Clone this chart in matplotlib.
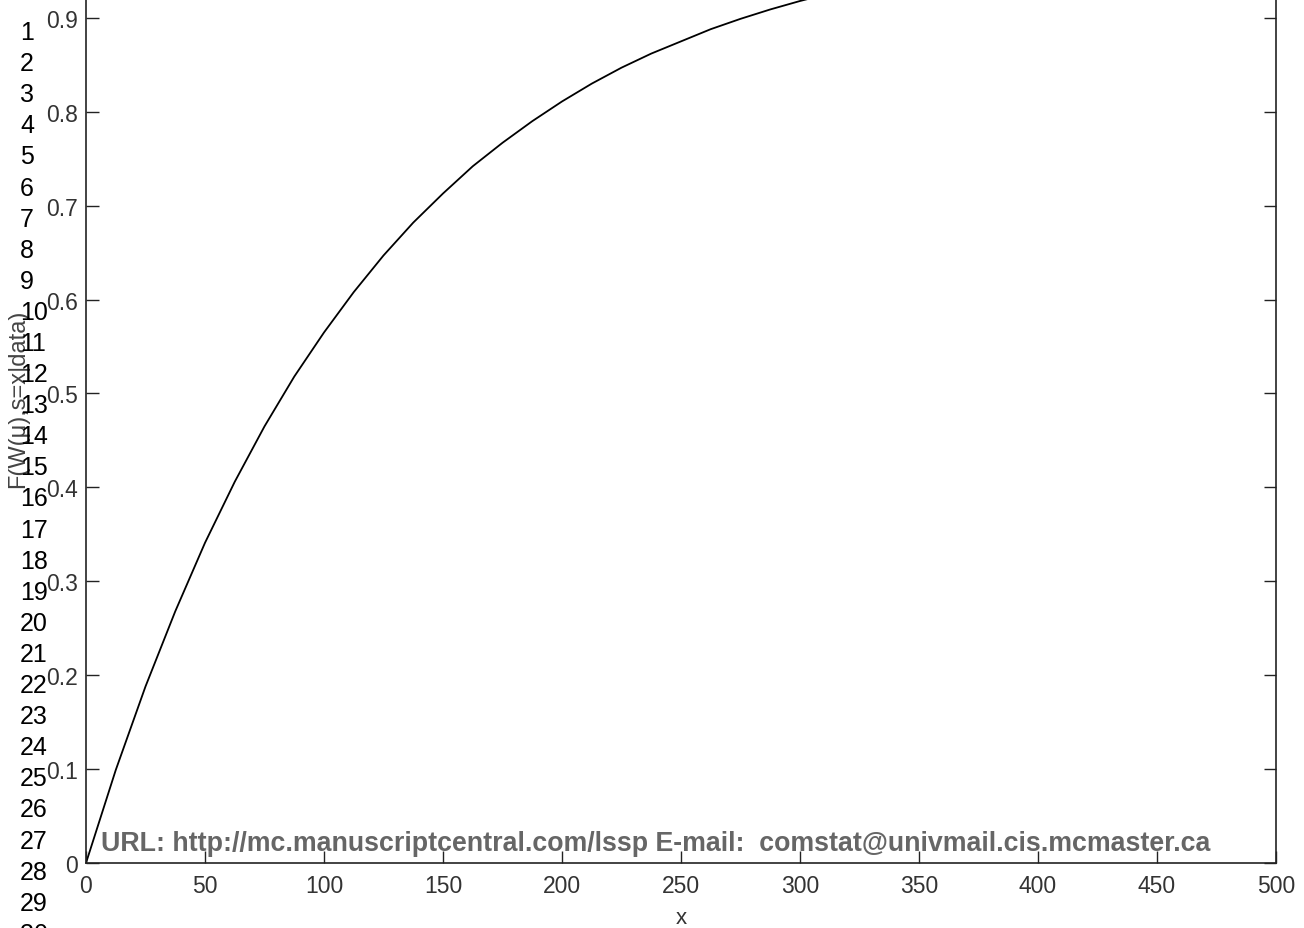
import matplotlib
matplotlib.use('Agg')
import matplotlib.pyplot as plt

# curve (x, F)
xVals = [0, 12.5, 25, 37.5, 50, 62.5, 75, 87.5, 100, 112.5, 125, 137.5, 150,
         162.5, 175, 187.5, 200, 212.5, 225, 237.5, 250, 262.5, 275, 287.5,
         300, 312.5, 325, 350, 400, 450, 500]
fVals = [0.0, 0.099, 0.188, 0.268, 0.341, 0.406, 0.465, 0.518, 0.565, 0.608,
         0.647, 0.682, 0.713, 0.742, 0.767, 0.790, 0.811, 0.830, 0.847, 0.862,
         0.875, 0.888, 0.899, 0.909, 0.918, 0.926, 0.933, 0.946, 0.964, 0.977,
         0.984]

xTicks = [0, 50, 100, 150, 200, 250, 300, 350, 400, 450, 500]
yTicks = [0, 0.1, 0.2, 0.3, 0.4, 0.5, 0.6, 0.7, 0.8, 0.9, 1]
yTickLabels = ['0', '0.1', '0.2', '0.3', '0.4', '0.5', '0.6', '0.7', '0.8',
               '0.9', '1']
lineNumbers = [str(i) for i in range(1, 31)]

watermark = ('URL: http://mc.manuscriptcentral.com/lssp E-mail:  '
             'comstat@univmail.cis.mcmaster.ca')

W, H = 1304, 929
fig = plt.figure(figsize=(W / 100, H / 100), dpi=100)
fig.patch.set_facecolor('white')

# axes extends past the top of the page crop
left, right, bottom, top = 86, 1276, 864, -75
ax = fig.add_axes([left / W, 1 - bottom / H,
                   (right - left) / W, (bottom - top) / H])
ax.plot(xVals, fVals, color='black', lw=1.3)
ax.set_xlim(0, 500)
ax.set_ylim(0, 1)
ax.set_xticks(xTicks)
ax.set_xticklabels([str(t) for t in xTicks])
ax.set_yticks(yTicks)
ax.set_yticklabels(yTickLabels)
ax.tick_params(direction='in', length=9, width=1.0, top=False, right=True,
               labelsize=16.5, labelcolor='#333333', colors='#222222')
ax.tick_params(axis='x', pad=8)
ax.tick_params(axis='y', pad=6)
for lbl in ax.get_xticklabels() + ax.get_yticklabels():
    lbl.set_family('Liberation Sans')
for sp in ax.spines.values():
    sp.set_linewidth(1.2)
    sp.set_color('#222222')

ax.set_xlabel('x', fontsize=16, family='Liberation Sans', color='#333333',
              labelpad=7)
fig.text(18 / W, 1 - 399 / H, 'F(W(\u03bc),s=x|data)', rotation=90,
         ha='center', va='center', fontsize=17, family='Liberation Sans',
         color='#444444')

# line numbers down the left margin
for i, num in enumerate(lineNumbers):
    yPx = 33 + i * 31.1
    fig.text(20 / W, 1 - yPx / H, num, ha='left', va='center', fontsize=18,
             family='Liberation Sans', color='black')

fig.text(101 / W, 1 - 851 / H, watermark, ha='left', va='baseline',
         fontsize=19.3, fontweight='bold', family='Liberation Sans',
         color='#666666')

fig.savefig('out.png', dpi=100)
